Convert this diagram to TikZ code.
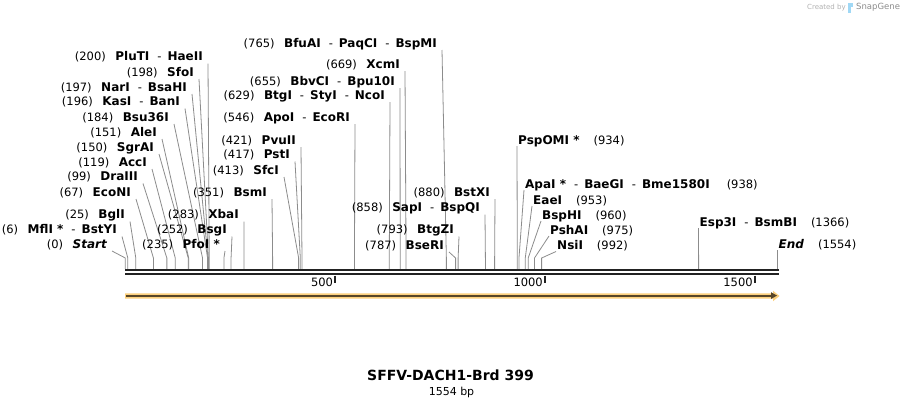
\documentclass[tikz,border=0pt]{standalone}
\usepackage{fontspec}
\setmainfont{DejaVu Sans}
\usetikzlibrary{arrows.meta}
\definecolor{leadgray}{RGB}{140,140,140}
\definecolor{rulerdark}{RGB}{34,34,34}
\definecolor{featfill}{RGB}{252,208,125}
\definecolor{featline}{RGB}{88,70,40}
\definecolor{sgblue}{RGB}{120,200,240}
\newcommand{\B}[1]{{\fontsize{12}{13}\selectfont\bfseries #1}}
\newcommand{\gp}{\hspace{9.5pt}}
\newcommand{\dd}{\hspace{8pt}-\hspace{6pt}}
\newcommand{\rg}{\hspace{14pt}}
\newcommand{\bpx}[1]{125.3+0.4197*#1}
\newcommand{\leftlab}[5]{%
  \node[lab,anchor=base east] (#1) at (#2,#3) {#4};
  \coordinate (#1k) at ({\bpx{#5}},258);
  \coordinate (#1p) at ({\bpx{#5}},268.8);
  \draw[leader] ([shift={(5,3)}]#1.base east) -- (#1k) -- (#1p);
}
\newcommand{\rightlab}[5]{%
  \node[lab,anchor=base west] (#1) at (#2,#3) {#4};
  \coordinate (#1k) at ({\bpx{#5}},258);
  \coordinate (#1p) at ({\bpx{#5}},268.8);
  \draw[leader] ([shift={(-1,2)}]#1.base west) -- (#1k) -- (#1p);
}
\begin{document}
\begin{tikzpicture}[x=1pt,y=-1pt,
  lab/.style={font=\fontsize{11.5}{13}\selectfont,inner sep=0pt,text=black},
  leader/.style={draw=leadgray,line width=0.8pt},
  rulerline/.style={draw=rulerdark,line width=2.3pt},
  tickline/.style={draw=rulerdark,line width=1.6pt},
  ticklab/.style={font=\fontsize{11.5}{13}\selectfont,inner sep=0pt,anchor=base east}]
\useasboundingbox (0,0) rectangle (904,408);
\fill[white] (0,0) rectangle (904,408);

% left cluster
\leftlab{plu}{203}{60.5}{(200)\gp\B{PluTI}\dd\B{HaeII}}{200}
\leftlab{sfo}{194}{76}{(198)\gp\B{SfoI}}{198}
\leftlab{nar}{187}{91}{(197)\gp\B{NarI}\dd\B{BsaHI}}{197}
\leftlab{kas}{180}{105.5}{(196)\gp\B{KasI}\dd\B{BanI}}{196}
\leftlab{bsu}{169}{121}{(184)\gp\B{Bsu36I}}{184}
\leftlab{ale}{157}{136}{(151)\gp\B{AleI}}{151}
\leftlab{sgr}{154}{151}{(150)\gp\B{SgrAI}}{150}
\leftlab{acc}{147}{166}{(119)\gp\B{AccI}}{119}
\leftlab{dra}{138}{180.5}{(99)\gp\B{DraIII}}{99}
\leftlab{eco}{131}{196}{(67)\gp\B{EcoNI}}{67}
\leftlab{bgl}{125}{218.5}{(25)\gp\B{BglI}}{25}
\leftlab{mfl}{117}{233.5}{(6)\gp\B{MflI *}\dd\B{BstYI}}{6}
\leftlab{sta}{107}{248}{(0)\gp\B{\itshape Start}}{0}
\leftlab{pfo}{220}{248}{(235)\gp\B{PfoI *}}{235}
\leftlab{bsg}{227}{233.5}{(252)\gp\B{BsgI}}{252}
\leftlab{xba}{239}{218.5}{(283)\gp\B{XbaI}}{283}
\leftlab{bsm}{267}{196}{(351)\gp\B{BsmI}}{351}
\leftlab{sfc}{279}{174}{(413)\gp\B{SfcI}}{413}
\leftlab{pst}{290}{158.5}{(417)\gp\B{PstI}}{417}
\leftlab{pvu}{296}{144}{(421)\gp\B{PvuII}}{421}
\leftlab{apo}{350}{121}{(546)\gp\B{ApoI}\dd\B{EcoRI}}{546}
\leftlab{btg}{385}{99}{(629)\gp\B{BtgI}\dd\B{StyI}\dd\B{NcoI}}{629}
\leftlab{bbv}{395}{85}{(655)\gp\B{BbvCI}\dd\B{Bpu10I}}{655}
\leftlab{xcm}{400}{68}{(669)\gp\B{XcmI}}{669}
\leftlab{bfu}{437}{47}{(765)\gp\B{BfuAI}\dd\B{PaqCI}\dd\B{BspMI}}{765}
\leftlab{bstx}{490}{196}{(880)\gp\B{BstXI}}{880}
\leftlab{sap}{480}{211.5}{(858)\gp\B{SapI}\dd\B{BspQI}}{858}
\leftlab{btgz}{454}{233.5}{(793)\gp\B{BtgZI}}{793}
\leftlab{bse}{444}{249}{(787)\gp\B{BseRI}}{787}

% right cluster
\rightlab{psp}{518}{144}{\B{PspOMI *}\rg(934)}{934}
\rightlab{apa}{525}{188}{\B{ApaI *}\dd\B{BaeGI}\dd\B{Bme1580I}\hspace{17pt}(938)}{938}
\rightlab{eae}{533}{204}{\B{EaeI}\rg(953)}{953}
\rightlab{bsph}{542}{219}{\B{BspHI}\rg(960)}{960}
\rightlab{psh}{550}{234}{\B{PshAI}\rg(975)}{975}
\rightlab{nsi}{557}{249.5}{\B{NsiI}\rg(992)}{992}
\rightlab{esp}{699.5}{226}{\B{Esp3I}\dd\B{BsmBI}\rg(1366)}{1366}
\rightlab{endl}{778.5}{248}{\B{\itshape End}\rg(1554)}{1554}

% ruler
\draw[rulerline] (125,270.2) -- (778.8,270.2);
\draw[rulerline] (125,274.2) -- (778.8,274.2);
\foreach \v in {500,1000,1500}{
  \draw[tickline] ({\bpx{\v}},275.5) -- ({\bpx{\v}},283);
  \node[ticklab] at ({\bpx{\v}-2},286.5) {\v};
}

% feature arrow
\fill[featfill] (125,293.3) -- (773,293.3) -- (773,290.8) -- (779.5,296) -- (773,301.2) -- (773,298.7) -- (125,298.7) -- cycle;
\draw[featline,line width=2pt] (126,295.6) -- (772,295.6);
\fill[featline] (771,292.2) -- (777,295.6) -- (771,299) -- cycle;

% title
\node[font=\fontsize{14}{16}\selectfont\bfseries,inner sep=0pt] (title) at (450.5,375.5) {SFFV-DACH1-Brd 399};
\node[font=\fontsize{11}{13}\selectfont,inner sep=0pt] (len) at (451.5,392.5) {1554 bp};

% watermark
\node[font=\fontsize{7}{8}\selectfont,text=black!30,inner sep=0pt,anchor=west] (cb) at (807,7.5) {Created by};
\fill[sgblue!70] (847.5,2.5) rectangle (850.5,12.5);
\fill[sgblue!70] (847.5,2.5) rectangle (853,7);
\node[font=\fontsize{8.5}{10}\selectfont,text=black!45,inner sep=0pt,anchor=west] (sg) at (856,7.5) {SnapGene};
\end{tikzpicture}
\end{document}
